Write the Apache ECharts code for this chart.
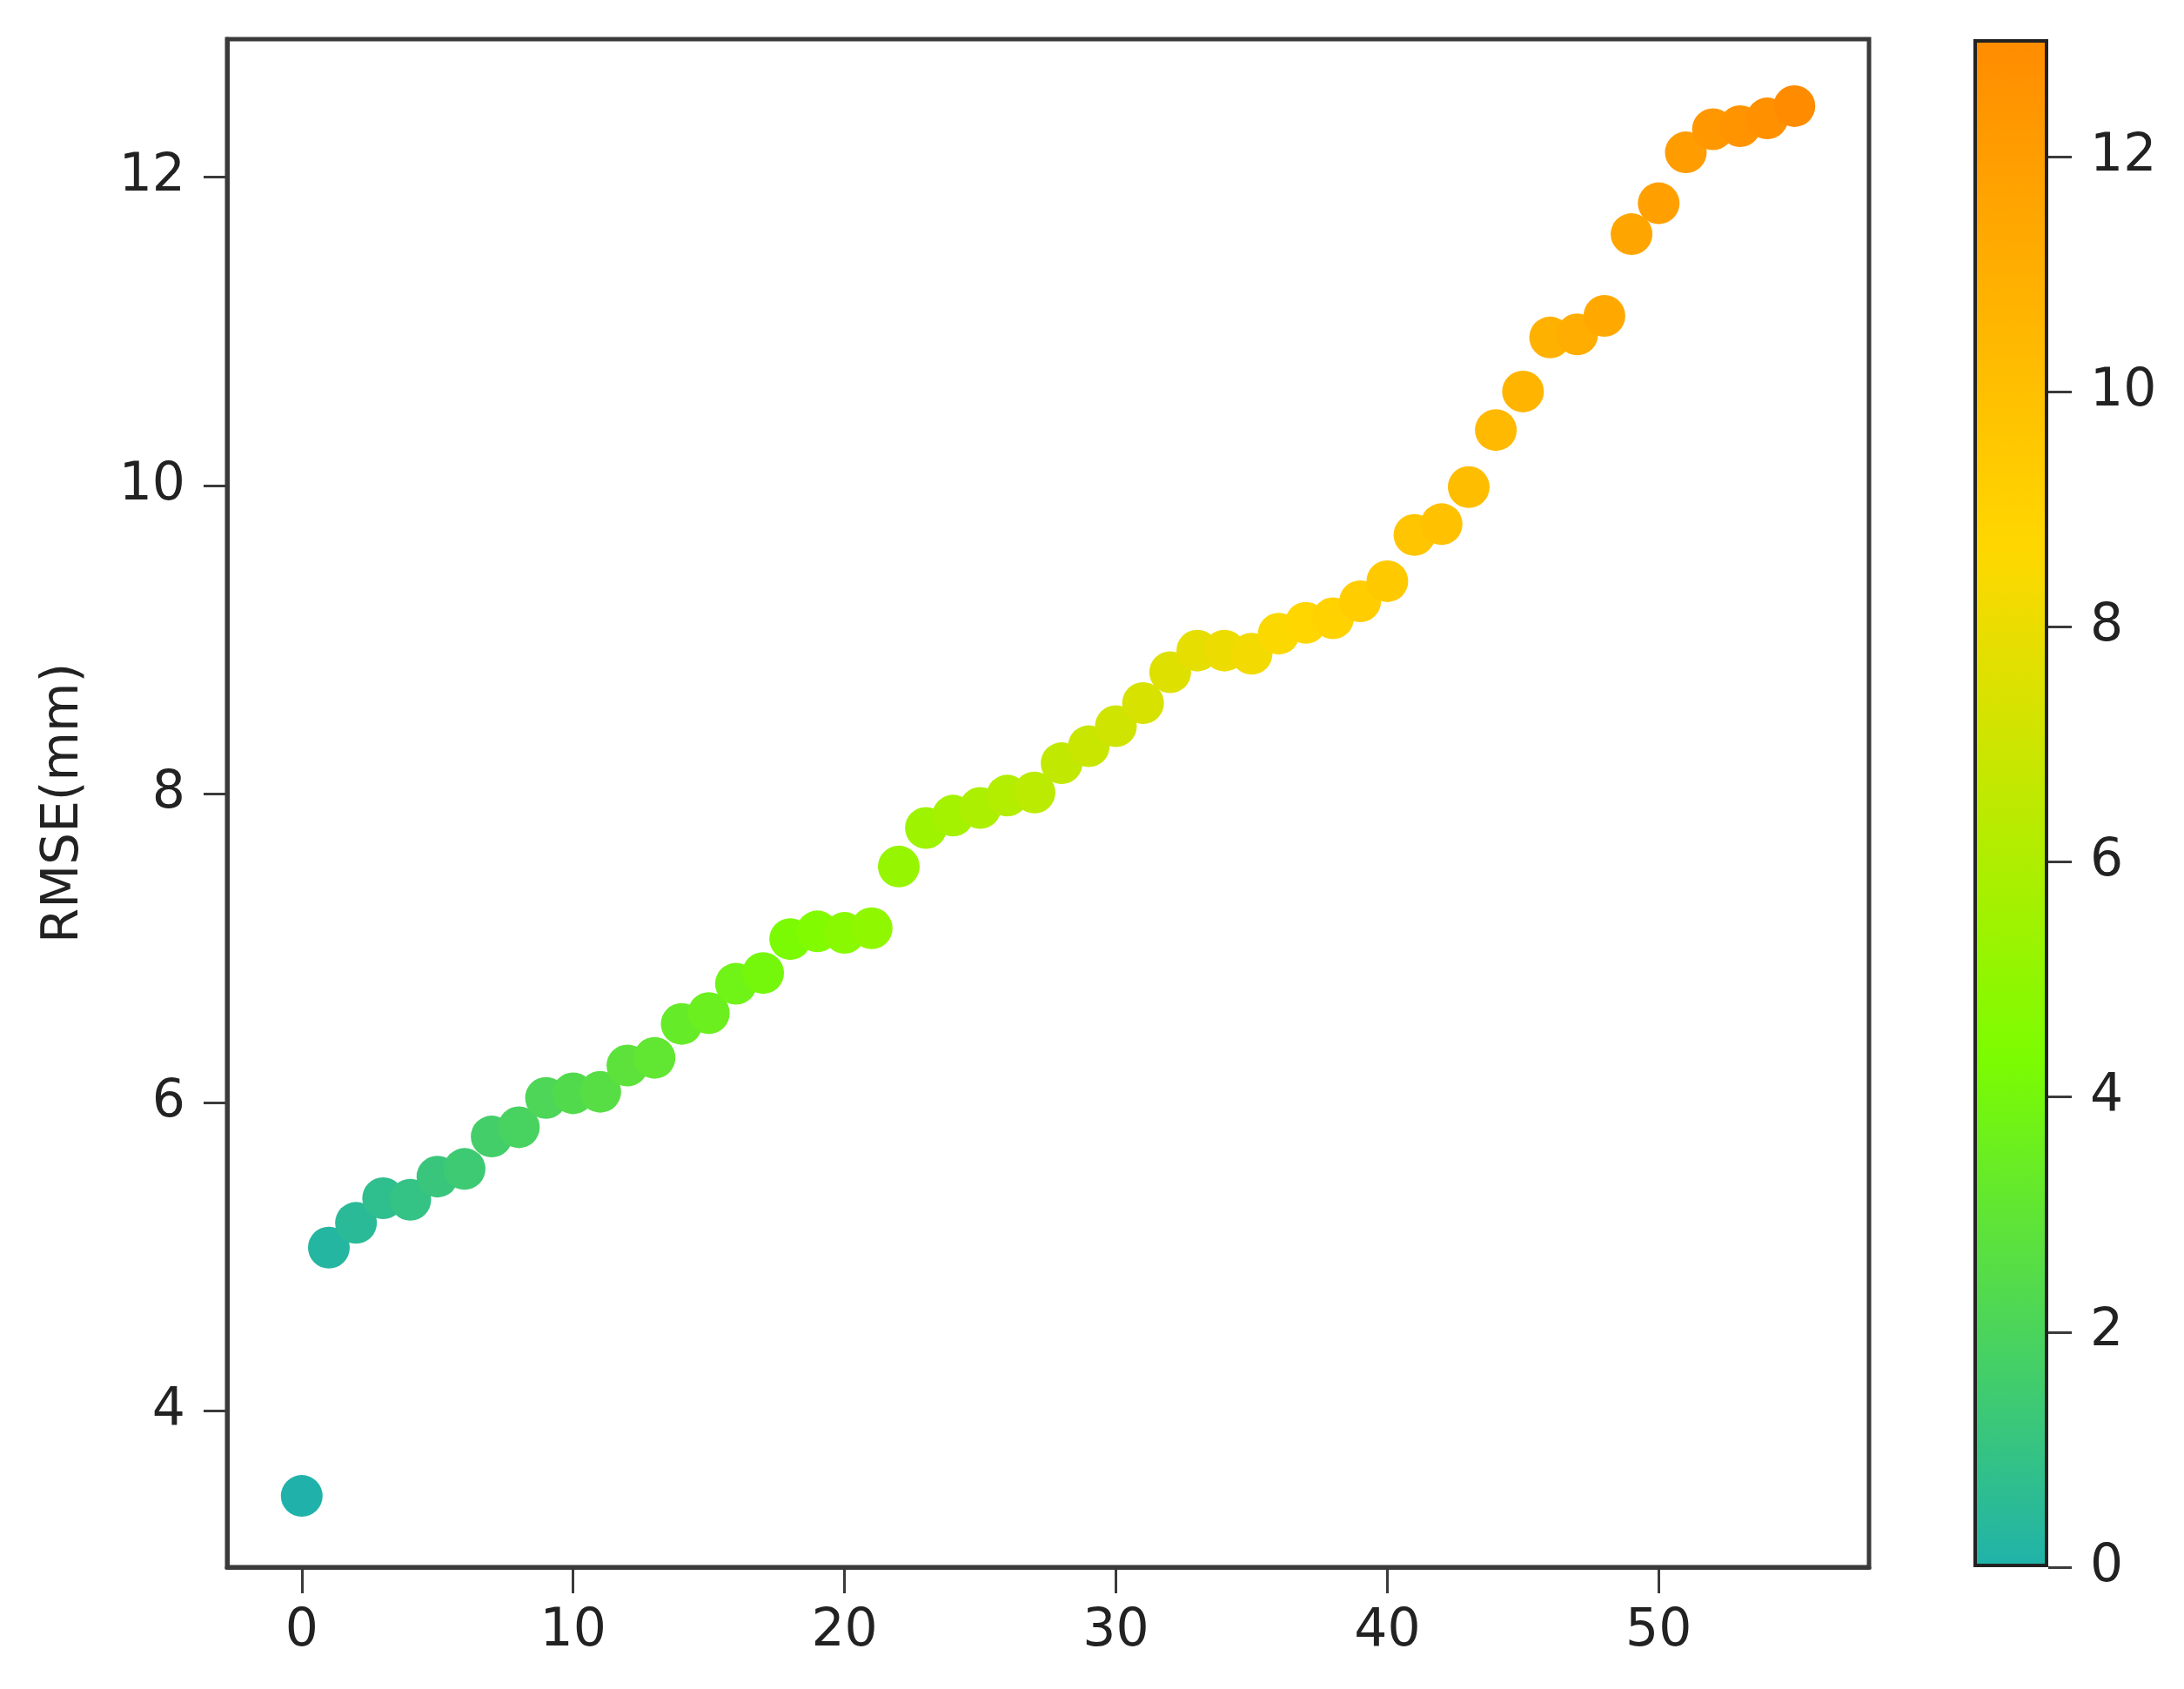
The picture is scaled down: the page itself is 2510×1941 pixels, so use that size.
<!DOCTYPE html>
<html>
<head>
<meta charset="utf-8">
<script src="https://cdn.jsdelivr.net/npm/echarts@6/dist/echarts.min.js"></script>
<style>
html,body{margin:0;padding:0;background:#fff;}
#chart{width:2510px;height:1941px;}
</style>
</head>
<body>
<div id="chart"></div>
<script>
// ---- data ----
var xIndex = [0,1,2,3,4,5,6,7,8,9,10,11,12,13,14,15,16,17,18,19,20,21,22,23,24,25,26,27,28,29,30,31,32,33,34,35,36,37,38,39,40,41,42,43,44,45,46,47,48,49,50,51,52,53,54,55];
var rmse = [3.45,5.06,5.22,5.38,5.37,5.52,5.57,5.78,5.84,6.03,
            6.06,6.07,6.24,6.29,6.51,6.58,6.77,6.84,7.06,7.11,
            7.10,7.13,7.53,7.78,7.86,7.91,7.99,8.01,8.20,8.31,
            8.44,8.59,8.79,8.93,8.93,8.91,9.04,9.11,9.14,9.25,
            9.38,9.68,9.75,9.99,10.36,10.61,10.96,10.98,11.10,11.63,
            11.83,12.16,12.31,12.33,12.38,12.46];
var xTicks = [0,10,20,30,40,50];
var yTicks = [4,6,8,10,12];
var cbTicks = [0,2,4,6,8,10,12];
var cbMax = [13];
var yName = 'RMSE(mm)';
var cmap = ['#20b2aa','#7cfc00','#ffd700','#ff8c00'];

var points = xIndex.map(function(x,i){return [x, rmse[i]];});

var FONT = 'DejaVu Sans';
var TXT = '#222';
var AX = '#3a3a3a';

var chart = echarts.init(document.getElementById('chart'));
var stops = cmap.map(function(c,i){return {offset:i/(cmap.length-1), color:c};});

chart.setOption({
  backgroundColor:'#fff',
  animation:false,
  textStyle:{fontFamily:FONT},
  grid:[
    {left:261, top:45, width:1887, height:1756, show:true, borderColor:AX, borderWidth:5, backgroundColor:'transparent'},
    {left:2268, top:45, width:86, height:1756}
  ],
  xAxis:[
    {gridIndex:0, type:'value', min:-2.75, max:57.75, position:'bottom',
     axisLine:{show:true, onZero:false, lineStyle:{color:AX, width:5}},
     axisTick:{show:true, inside:false, length:30, lineStyle:{color:AX, width:3}, customValues:xTicks},
     axisLabel:{fontSize:60, color:TXT, fontFamily:FONT, margin:44, customValues:xTicks},
     splitLine:{show:false}},
    {gridIndex:1, type:'category', data:['c'], show:false}
  ],
  yAxis:[
    {gridIndex:0, type:'value', min:2.988, max:12.894, position:'left',
     name:yName, nameLocation:'middle', nameGap:158, nameRotate:90,
     nameTextStyle:{fontSize:58, color:TXT, fontFamily:FONT},
     axisLine:{show:true, onZero:false, lineStyle:{color:AX, width:5}},
     axisTick:{show:true, inside:false, length:27, lineStyle:{color:AX, width:3}, customValues:yTicks},
     axisLabel:{fontSize:60, color:TXT, fontFamily:FONT, margin:48, customValues:yTicks},
     splitLine:{show:false}},
    {gridIndex:1, type:'value', min:0, max:13, position:'right',
     axisLine:{show:false, onZero:false},
     axisTick:{show:true, inside:false, length:27, lineStyle:{color:AX, width:3}, customValues:cbTicks},
     axisLabel:{fontSize:60, color:TXT, fontFamily:FONT, margin:48, customValues:cbTicks},
     splitLine:{show:false}}
  ],
  visualMap:{
    show:false, type:'continuous', dimension:0, seriesIndex:0,
    min:xIndex[0], max:xIndex[xIndex.length-1],
    inRange:{color:cmap}
  },
  series:[
    {type:'scatter', xAxisIndex:0, yAxisIndex:0, data:points,
     symbol:'circle', symbolSize:48, itemStyle:{opacity:1}},
    {type:'bar', xAxisIndex:1, yAxisIndex:1, data:cbMax, barWidth:'100%',
     silent:true,
     itemStyle:{color:{type:'linear', x:0, y:1, x2:0, y2:0, colorStops:stops},
                borderColor:'#222', borderWidth:4}}
  ]
});
</script>
</body>
</html>
